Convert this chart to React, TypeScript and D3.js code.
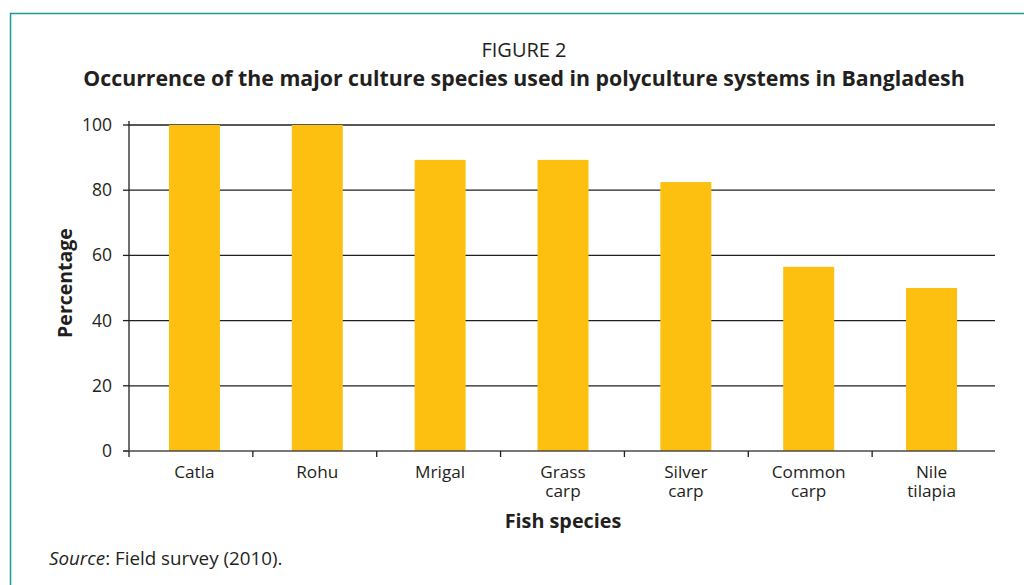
import * as d3 from "d3"
import React from "react"

const species = ["Catla", "Rohu", "Mrigal", "Grass carp", "Silver carp", "Common carp", "Nile tilapia"]
const speciesLines = [["Catla"], ["Rohu"], ["Mrigal"], ["Grass", "carp"], ["Silver", "carp"], ["Common", "carp"], ["Nile", "tilapia"]]
const percentage = [100, 100, 89.3, 89.3, 82.5, 56.5, 50]
const yTicks = [0, 20, 40, 60, 80, 100]

const W = 1024
const H = 585
const ink = "#231f20"
const font = "'Open Sans', 'Noto Sans', sans-serif"

export default function App() {
  // bars and category ticks sit on slightly different grids in the original
  const x = d3.scaleBand().domain(species).range([133, 993]).paddingInner(0.585).paddingOuter(0.2925)
  const band = d3.scaleBand().domain(species).range([129, 996])
  const y = d3.scaleLinear().domain([0, 100]).range([451, 125])

  return (
    <svg width={W} height={H} style={{ position: "absolute", left: 0, top: 0, fontFamily: font }}>
      <rect width={W} height={H} fill="#fff" />
      {/* frame */}
      <path d={`M10.5,${H} V13.5 H${W}`} fill="none" stroke="#1a9c98" strokeWidth={1.5} />

      <text x={524} y={57} textAnchor="middle" fontSize={20} fill={ink}>FIGURE 2</text>
      <text x={524} y={86} textAnchor="middle" fontSize={21.3} fontWeight="bold" fill={ink}>
        Occurrence of the major culture species used in polyculture systems in Bangladesh
      </text>

      {/* gridlines + y ticks */}
      {yTicks.map(t => (
        <g key={t}>
          {t > 0 && <line x1={129} x2={995} y1={y(t)} y2={y(t)} stroke={ink} strokeWidth={1.3} />}
          <line x1={123} x2={129} y1={y(t)} y2={y(t)} stroke={ink} strokeWidth={1.3} />
          <text x={112} y={y(t) + 6} textAnchor="end" fontSize={17.5} fill={ink}>{t}</text>
        </g>
      ))}

      {/* bars */}
      {species.map((s, i) => (
        <rect key={s} x={x(s)} y={y(percentage[i])} width={x.bandwidth()} height={y(0) - y(percentage[i])} fill="#fdc010" />
      ))}

      {/* axes */}
      <line x1={129} x2={129} y1={121} y2={451} stroke={ink} strokeWidth={1.3} />
      <line x1={123} x2={995} y1={451} y2={451} stroke="#4a4a4a" strokeWidth={1.3} />
      {species.map(s => (
        <line key={s} x1={band(s)} x2={band(s)} y1={451} y2={457} stroke={ink} strokeWidth={1.3} />
      ))}

      {/* x labels, one text per line */}
      {species.map((s, i) =>
        speciesLines[i].map((l, j) => (
          <text key={s + j} x={x(s)! + x.bandwidth() / 2} y={478 + j * 19} textAnchor="middle" fontSize={17.2} fill={ink}>{l}</text>
        ))
      )}

      <text x={563} y={528} textAnchor="middle" fontSize={19.8} fontWeight="bold" fill={ink}>Fish species</text>
      <text transform="translate(72,283) rotate(-90)" textAnchor="middle" fontSize={19.5} fontWeight="bold" fill={ink}>Percentage</text>

      <text x={49} y={565} fontSize={18.8} fill={ink}>
        <tspan fontStyle="italic">Source</tspan>: Field survey (2010).
      </text>
    </svg>
  )
}
